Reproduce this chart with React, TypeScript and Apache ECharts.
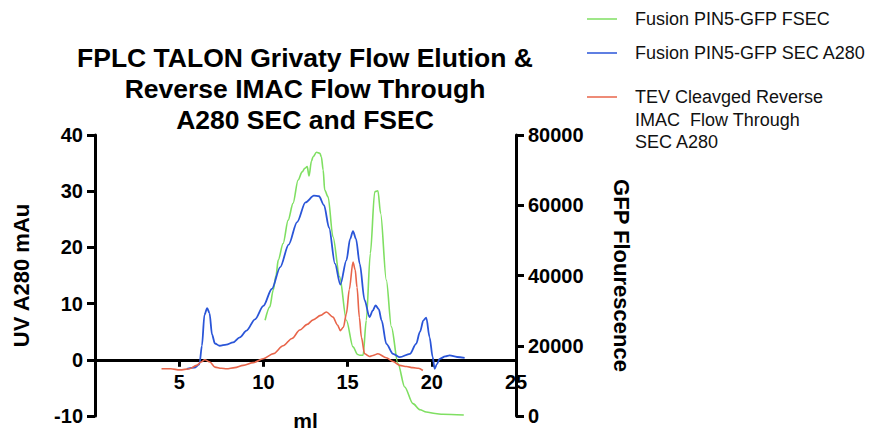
import React, { useEffect, useRef } from "react";
import * as echarts from "echarts";

const titleText = "FPLC TALON Grivaty Flow Elution &\nReverse IMAC Flow Through\nA280 SEC and FSEC";
const seriesNames = [
  "Fusion PIN5-GFP FSEC",
  "Fusion PIN5-GFP SEC A280",
  "TEV Cleavged Reverse\nIMAC  Flow Through\nSEC A280",
];
const seriesColors = ["#7fdf62", "#2a55d8", "#e8654a"];

const xTicks = [5, 10, 15, 20, 25];

// Fusion PIN5-GFP SEC A280 (left axis, mAu)
const blueX = [5.45, 5.9, 6.2, 6.35, 6.5, 6.66, 6.8, 6.95, 7.12, 7.4, 7.8, 8.2, 8.6, 9.0, 9.5, 10.0, 10.5, 11.0, 11.5, 12.0, 12.5, 13.0, 13.3, 13.6, 13.9, 14.25, 14.57, 14.93, 15.15, 15.32, 15.5, 15.72, 16.01, 16.3, 16.5, 16.66, 16.85, 17.02, 17.3, 17.7, 18.1, 18.7, 19.07, 19.3, 19.5, 19.67, 19.87, 20.05, 20.17, 20.3, 20.47, 20.8, 21.06, 21.5, 21.95];
const blueY = [-1.6, -1.4, -0.8, 2.5, 8.0, 9.2, 8.3, 4.5, 2.9, 2.5, 2.7, 3.1, 4.0, 5.2, 7.2, 9.6, 12.6, 16.5, 20.5, 24.5, 28.0, 29.2, 29.1, 27.5, 23.5, 17.1, 13.4, 17.7, 21.5, 22.9, 21.5, 17.1, 10.6, 7.6, 8.8, 9.7, 9.0, 7.0, 2.85, 1.07, 0.46, 1.07, 2.85, 5.0, 7.0, 7.5, 4.0, 0.5, -1.6, -0.8, 0.18, 0.6, 0.77, 0.5, 0.36];

// TEV Cleaved Reverse IMAC Flow Through SEC A280 (left axis, mAu)
const redX = [3.95, 4.5, 5.04, 5.6, 6.03, 6.3, 6.52, 6.82, 7.12, 7.5, 7.81, 8.3, 8.8, 9.4, 9.99, 10.6, 11.17, 11.7, 12.16, 12.6, 12.95, 13.4, 13.74, 14.13, 14.4, 14.57, 14.75, 14.93, 15.1, 15.32, 15.45, 15.56, 15.7, 15.82, 16.01, 16.3, 16.5, 16.8, 17.3, 17.7, 18.09, 18.5, 18.88, 19.2, 19.47];
const redY = [-1.6, -1.6, -1.8, -1.6, -1.0, -0.4, 0.0, -0.4, -1.3, -1.5, -1.6, -1.4, -1.0, -0.5, 0.18, 1.1, 2.5, 3.8, 5.3, 6.3, 7.1, 7.9, 8.5, 7.6, 6.2, 5.2, 5.8, 8.2, 12.5, 17.4, 16.0, 12.9, 7.5, 4.0, 1.07, 0.6, 0.77, 1.07, 0.36, -0.3, -1.0, -1.2, -1.4, -1.5, -1.9];

// Fusion PIN5-GFP FSEC (right axis, GFP fluorescence)
const greenX = [10.1, 10.38, 10.58, 10.75, 10.88, 11.17, 11.47, 11.76, 12.06, 12.3, 12.46, 12.6, 12.71, 12.85, 12.95, 13.15, 13.35, 13.44, 13.55, 13.64, 13.84, 14.13, 14.53, 14.93, 15.32, 15.6, 15.72, 15.92, 16.11, 16.35, 16.61, 16.8, 16.96, 17.3, 17.6, 17.99, 18.39, 18.88, 19.3, 19.67, 20.2, 20.65, 21.9];
const greenY = [27270, 31060, 35820, 40000, 44370, 49130, 55770, 60530, 67170, 69500, 70500, 71000, 68310, 72500, 73810, 75070, 74800, 73810, 70000, 64320, 62420, 51020, 39620, 27270, 19670, 17500, 17300, 17300, 27270, 46280, 63840, 64130, 57690, 38670, 25370, 14930, 8265, 3530, 1800, 1140, 700, 485, 285];

const zip = (xs: number[], ys: number[]) => xs.map((x, i) => [x, ys[i]]);

const FONT = "'Liberation Sans', Arial, Helvetica, sans-serif";

export default function App() {
  const ref = useRef<HTMLDivElement>(null);
  useEffect(() => {
    if (!ref.current) return;
    const chart = echarts.init(ref.current, null, { renderer: "svg" });
    const axisLabelStyle = { color: "#000", fontWeight: "bold" as const, fontSize: 20, fontFamily: FONT };
    const nameStyle = { color: "#000", fontWeight: "bold" as const, fontSize: 22, fontFamily: FONT };
    const axisLine = { lineStyle: { color: "#000", width: 3 } };
    const axisTick = { length: 8, lineStyle: { color: "#000", width: 3 } };
    const legendRows = [19, 53, 97];
    const graphic: any[] = [];
    legendRows.forEach((y, i) => {
      graphic.push({
        type: "line",
        shape: { x1: 587, y1: y, x2: 617, y2: y },
        style: { stroke: seriesColors[i], lineWidth: 1.5 },
      });
      graphic.push({
        type: "text",
        x: 635,
        y: y - 11,
        style: {
          text: seriesNames[i],
          fill: "#111",
          font: `18px ${FONT}`,
          lineHeight: 22.5,
          verticalAlign: "top",
        },
      });
    });
    chart.setOption({
      animation: false,
      backgroundColor: "#fff",
      title: {
        text: titleText,
        left: 300,
        top: 37,
        textAlign: "center",
        textStyle: { fontSize: 26.5, fontWeight: "bold", fontFamily: FONT, color: "#000", lineHeight: 31 },
      },
      grid: { left: 95, top: 135, width: 421, height: 281, outerBoundsMode: "none", containLabel: false },
      xAxis: {
        type: "value",
        min: 0,
        max: 25,
        interval: 5,
        name: "ml",
        nameLocation: "middle",
        nameGap: 50,
        nameTextStyle: { ...nameStyle, fontSize: 21 },
        axisLine: { ...axisLine, onZero: false },
        offset: -56.2,
        axisTick: { length: 7, lineStyle: { color: "#000", width: 3 } },
        axisLabel: {
          ...axisLabelStyle,
          margin: 12,
          formatter: (v: number) => (xTicks.includes(v) ? String(v) : ""),
        },
        splitLine: { show: false },
      },
      yAxis: [
        {
          type: "value",
          min: -10,
          max: 40,
          interval: 10,
          position: "left",
          name: "UV A280 mAu",
          nameLocation: "middle",
          nameGap: 63,
          nameRotate: 90,
          nameTextStyle: nameStyle,
          axisLine: { ...axisLine, show: true, onZero: false },
          axisTick: { show: true, ...axisTick },
          axisLabel: { ...axisLabelStyle, margin: 12 },
          splitLine: { show: false },
        },
        {
          type: "value",
          min: 0,
          max: 80000,
          interval: 20000,
          position: "right",
          name: "GFP Flourescence",
          nameLocation: "middle",
          nameGap: 94,
          nameRotate: -90,
          nameTextStyle: nameStyle,
          axisLine: { ...axisLine, show: true, onZero: false },
          axisTick: { show: true, ...axisTick },
          axisLabel: { ...axisLabelStyle, margin: 12, formatter: (v: number) => String(v) },
          splitLine: { show: false },
        },
      ],
      series: [
        {
          name: seriesNames[0],
          type: "line",
          yAxisIndex: 1,
          data: zip(greenX, greenY),
          showSymbol: false,
          smooth: 0.3,
          smoothMonotone: "x",
          lineStyle: { color: seriesColors[0], width: 1.6 },
          itemStyle: { color: seriesColors[0] },
        },
        {
          name: seriesNames[1],
          type: "line",
          yAxisIndex: 0,
          data: zip(blueX, blueY),
          showSymbol: false,
          smooth: 0.3,
          smoothMonotone: "x",
          lineStyle: { color: seriesColors[1], width: 1.8 },
          itemStyle: { color: seriesColors[1] },
        },
        {
          name: seriesNames[2],
          type: "line",
          yAxisIndex: 0,
          data: zip(redX, redY),
          showSymbol: false,
          smooth: 0.3,
          smoothMonotone: "x",
          lineStyle: { color: seriesColors[2], width: 1.6 },
          itemStyle: { color: seriesColors[2] },
        },
      ],
      graphic,
    });
    return () => chart.dispose();
  }, []);
  return <div ref={ref} style={{ position: "fixed", left: 0, top: 0, width: 878, height: 434 }} />;
}
